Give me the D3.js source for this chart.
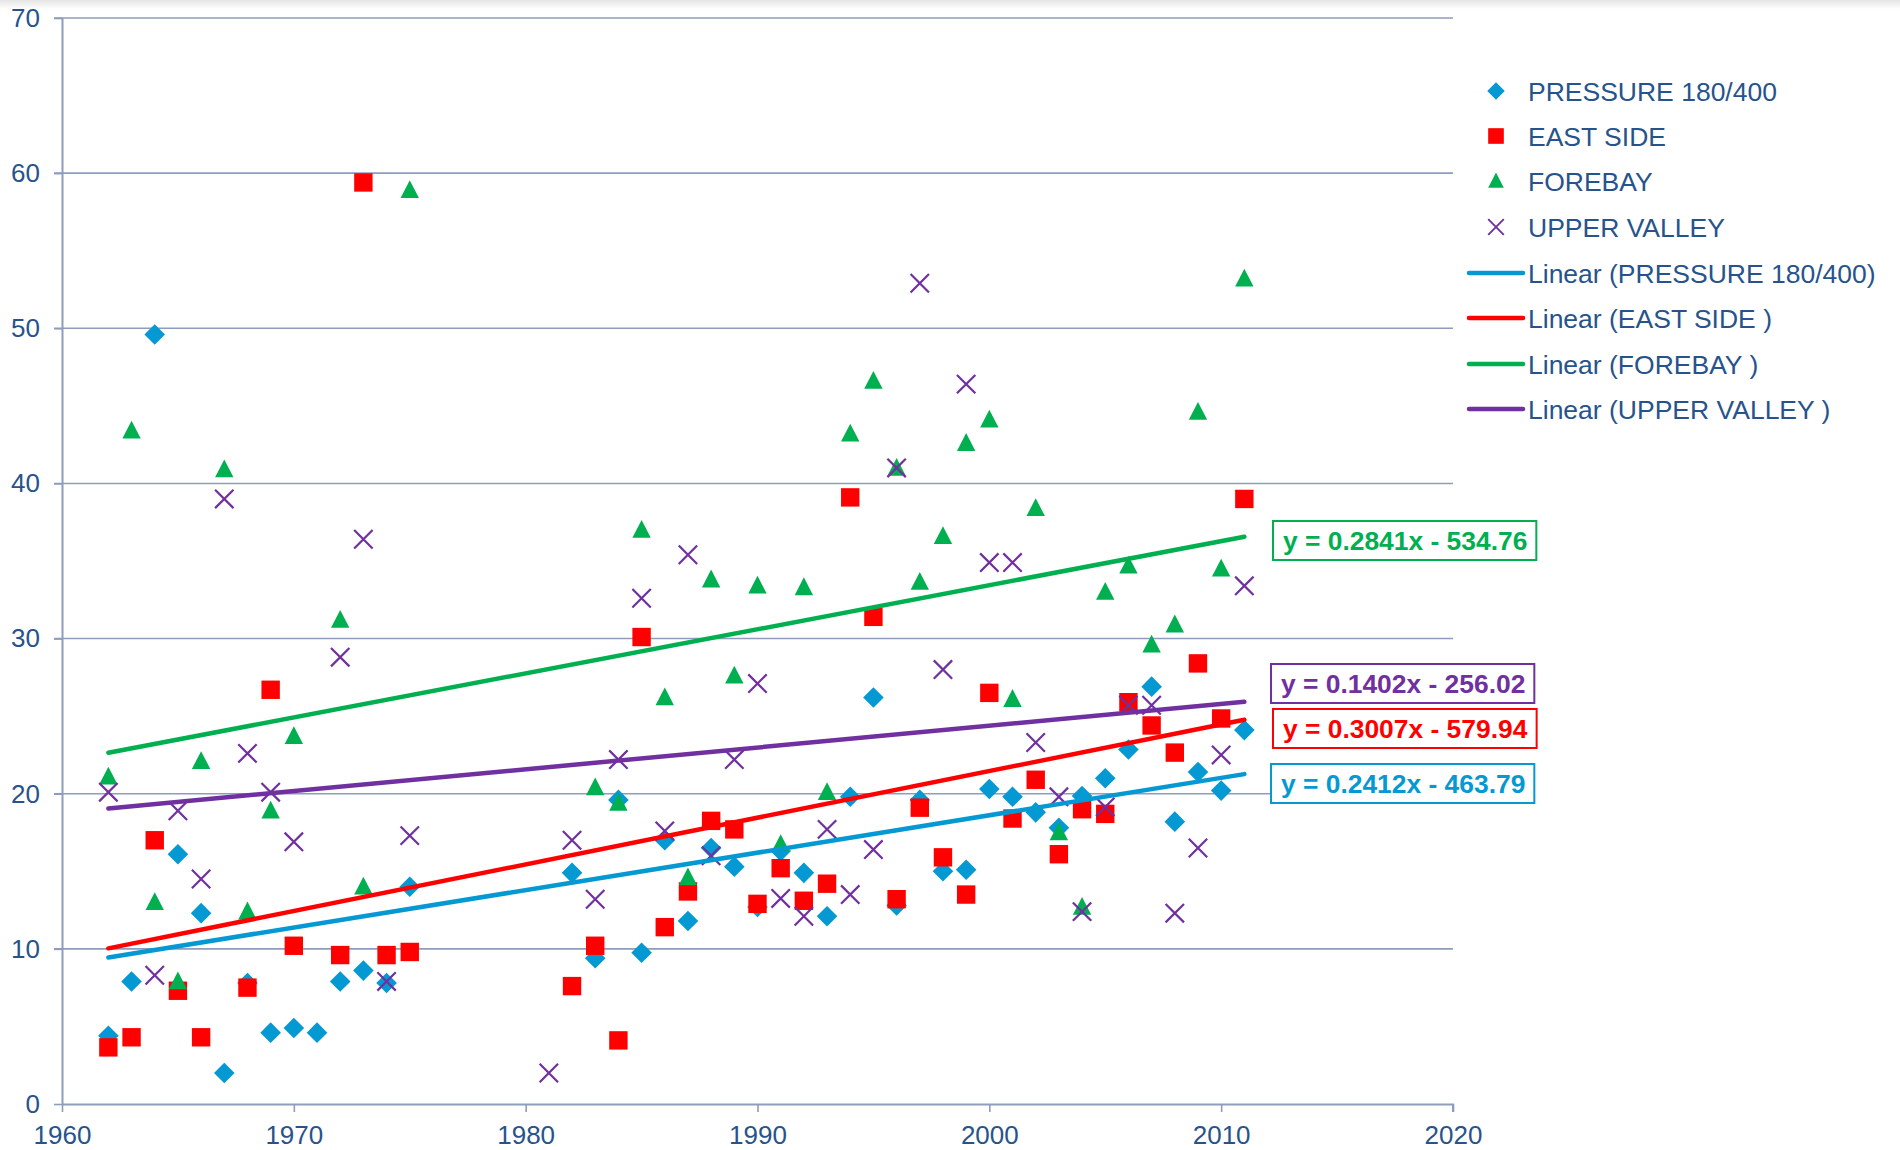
<!DOCTYPE html>
<html>
<head>
<meta charset="utf-8">
<script src="https://cdn.jsdelivr.net/npm/d3@7"></script>
<style>
  body { margin: 0; background: #fff; }
  svg text { font-family: "Liberation Sans", Arial, sans-serif; }
</style>
</head>
<body>
<div id="chart"></div>
<script>
// years sampled (gap between 1975 and 1981)
var years = [1962,1963,1964,1965,1966,1967,1968,1969,1970,1971,1972,1973,1974,1975,
  1981,1982,1983,1984,1985,1986,1987,1988,1989,1990,1991,1992,1993,1994,1995,1996,
  1997,1998,1999,2000,2001,2002,2003,2004,2005,2006,2007,2008,2009,2010,2011];

var pressure = [4.4,7.9,49.6,16.1,12.3,2.0,7.8,4.6,4.9,4.6,7.9,8.6,7.8,14.0,
  null,14.9,9.4,19.6,9.75,17.0,11.8,16.5,15.3,12.7,16.3,14.9,12.1,19.8,26.2,12.8,
  19.6,15.0,15.1,20.3,19.8,18.8,17.8,19.85,21.0,22.85,26.9,18.2,21.4,20.2,24.1];

var eastSide = [3.65,4.3,17.0,7.3,4.3,null,7.5,26.7,10.2,null,9.6,59.4,9.6,9.8,
  null,7.6,10.2,4.1,30.1,11.4,13.7,18.25,17.7,12.9,15.2,13.1,14.2,39.1,31.4,13.2,
  19.1,15.9,13.5,26.5,18.4,20.9,16.1,19.0,18.7,25.9,24.4,22.65,28.4,24.85,39.0];

var forebay = [21.1,43.4,13.0,7.9,22.1,40.9,12.4,18.9,23.7,null,31.2,14.0,null,58.9,
  null,null,20.4,19.4,37.0,26.2,14.6,33.8,27.6,33.4,16.75,33.3,20.1,43.2,46.6,41.0,
  33.65,36.6,42.6,44.1,26.1,38.4,17.5,12.7,33.0,34.7,29.6,30.9,44.6,34.5,53.2];

var upperValley = [20.1,null,8.3,18.9,14.5,39.0,22.6,20.1,16.9,null,28.8,36.4,7.9,17.3,
  2.0,17.0,13.2,22.2,32.6,17.6,35.4,16.0,22.2,27.1,13.25,12.1,17.7,13.5,16.4,41.0,
  52.9,28.0,46.4,34.9,34.9,23.3,19.8,12.4,19.15,25.7,25.7,12.3,16.5,22.5,33.4];

var seriesNames = ["PRESSURE 180/400", "EAST SIDE", "FOREBAY", "UPPER VALLEY"];
var trendNames = ["Linear (PRESSURE 180/400)", "Linear (EAST SIDE )", "Linear (FOREBAY )", "Linear (UPPER VALLEY )"];
var slopes = [0.2412, 0.3007, 0.2841, 0.1402];
var intercepts = [-463.79, -579.94, -534.76, -256.02];
var eqLabels = ["y = 0.2412x - 463.79", "y = 0.3007x - 579.94", "y = 0.2841x - 534.76", "y = 0.1402x - 256.02"];
var trendRange = [1962, 2011];
var xTicks = [1960, 1970, 1980, 1990, 2000, 2010, 2020];
var yTicks = [0, 10, 20, 30, 40, 50, 60, 70];

var colors = ["#0499d3", "#ff0000", "#00b050", "#7030a0"];
var textColor = "#27538c";
var gridColor = "#8e9cbd";

var W = 1900, H = 1150;
var margin = { top: 18, left: 62, right: 447, bottom: 46 };
var width = W - margin.left - margin.right,
    height = H - margin.top - margin.bottom;

var svg = d3.select("#chart").append("svg")
  .attr("width", W).attr("height", H);

// faint shadow band at the top edge
var grad = svg.append("defs").append("linearGradient")
  .attr("id", "topShade").attr("x1", 0).attr("y1", 0).attr("x2", 0).attr("y2", 1);
grad.append("stop").attr("offset", "0%").attr("stop-color", "#e4e4e4");
grad.append("stop").attr("offset", "100%").attr("stop-color", "#ffffff");
svg.append("rect").attr("width", W).attr("height", 9).attr("fill", "url(#topShade)");

var g = svg.append("g")
  .attr("transform", "translate(" + margin.left + "," + margin.top + ")");

var x = d3.scaleLinear().domain([1960, 2020]).range([0, width]);
var y = d3.scaleLinear().domain([0, 70]).range([height, 0]);

// gridlines
g.selectAll(".grid")
  .data(yTicks.filter(function(d) { return d > 0; }))
  .enter().append("line")
  .attr("class", "grid")
  .attr("x1", -8).attr("x2", width)
  .attr("y1", function(d) { return y(d); })
  .attr("y2", function(d) { return y(d); })
  .attr("stroke", gridColor).attr("stroke-width", 1.6);

// axes
var xAxis = g.append("g")
  .attr("transform", "translate(0," + height + ")")
  .call(d3.axisBottom(x).tickValues(xTicks).tickFormat(d3.format("d")).tickSize(8).tickPadding(14));
var yAxis = g.append("g")
  .call(d3.axisLeft(y).tickValues(yTicks).tickSize(8).tickPadding(14));

[xAxis, yAxis].forEach(function(a) {
  a.select(".domain").attr("stroke", gridColor).attr("stroke-width", 2);
  a.selectAll(".tick line").attr("stroke", gridColor).attr("stroke-width", 1.6);
  a.selectAll(".tick text")
    .attr("fill", textColor)
    .style("font-size", "26px")
    .style("font-family", "'Liberation Sans', Arial, sans-serif");
});
yAxis.select(".domain").attr("d", "M0.5," + height + "V0");
xAxis.select(".domain").attr("d", "M0," + 0.5 + "H" + width + "V8");

// marker shapes
var diamond = { draw: function(ctx, size) {
  var r = 10.3;
  ctx.moveTo(0, -r); ctx.lineTo(r, 0); ctx.lineTo(0, r); ctx.lineTo(-r, 0); ctx.closePath();
}};
var square = { draw: function(ctx, size) {
  var r = 9.2;
  ctx.rect(-r, -r, 2 * r, 2 * r);
}};
var triangle = { draw: function(ctx, size) {
  ctx.moveTo(0, -10); ctx.lineTo(9.2, 7.8); ctx.lineTo(-9.2, 7.8); ctx.closePath();
}};
var cross = { draw: function(ctx, size) {
  var r = 9.2;
  ctx.moveTo(-r, -r); ctx.lineTo(r, r); ctx.moveTo(r, -r); ctx.lineTo(-r, r);
}};
var shapes = [diamond, square, triangle, cross];

var allSeries = [pressure, eastSide, forebay, upperValley];

allSeries.forEach(function(vals, i) {
  var pts = years.map(function(yr, j) { return { year: yr, value: vals[j] }; })
    .filter(function(d) { return d.value !== null; });
  var isCross = shapes[i] === cross;
  g.append("g").selectAll("path")
    .data(pts)
    .enter().append("path")
    .attr("d", d3.symbol().type(shapes[i]))
    .attr("transform", function(d) { return "translate(" + x(d.year) + "," + y(d.value) + ")"; })
    .attr("fill", isCross ? "none" : colors[i])
    .attr("stroke", isCross ? colors[i] : "none")
    .attr("stroke-width", isCross ? 2.2 : 0);
});

// trendlines
[0, 1, 2, 3].forEach(function(i) {
  var line = d3.line()
    .x(function(d) { return x(d); })
    .y(function(d) { return y(slopes[i] * d + intercepts[i]); });
  g.append("path")
    .datum(trendRange)
    .attr("d", line)
    .attr("fill", "none")
    .attr("stroke", colors[i])
    .attr("stroke-width", 4.5)
    .attr("stroke-linecap", "round");
});

// equation labels (box left, box top)
var eqPos = [[1271, 764], [1273, 709], [1273, 521], [1271, 664]];
eqLabels.forEach(function(txt, i) {
  var lab = svg.append("g").attr("transform", "translate(" + eqPos[i][0] + "," + eqPos[i][1] + ")");
  var rect = lab.append("rect")
    .attr("height", 39)
    .attr("fill", "#fff")
    .attr("stroke", colors[i])
    .attr("stroke-width", 2);
  var t = lab.append("text")
    .attr("x", 10).attr("y", 29)
    .attr("fill", colors[i])
    .style("font-size", "26.4px")
    .style("font-weight", "bold")
    .text(txt);
  rect.attr("width", t.node().getBBox().width + 19);
});

// legend
var legend = svg.append("g").attr("transform", "translate(1468,0)");
var rowY = [91, 136, 181, 227, 273, 318, 364, 409];

seriesNames.forEach(function(name, i) {
  var isCross = shapes[i] === cross;
  legend.append("path")
    .attr("d", d3.symbol().type(shapes[i]))
    .attr("transform", "translate(28," + rowY[i] + ") scale(0.85)")
    .attr("fill", isCross ? "none" : colors[i])
    .attr("stroke", isCross ? colors[i] : "none")
    .attr("stroke-width", isCross ? 2.2 : 0);
  legend.append("text")
    .attr("x", 60).attr("y", rowY[i])
    .attr("dy", "0.36em")
    .attr("fill", textColor)
    .style("font-size", "26.5px")
    .text(name);
});

trendNames.forEach(function(name, i) {
  var ry = rowY[i + 4];
  legend.append("line")
    .attr("x1", 1).attr("x2", 55)
    .attr("y1", ry).attr("y2", ry)
    .attr("stroke", colors[i])
    .attr("stroke-width", 4.5)
    .attr("stroke-linecap", "round");
  legend.append("text")
    .attr("x", 60).attr("y", ry)
    .attr("dy", "0.36em")
    .attr("fill", textColor)
    .style("font-size", "26.5px")
    .text(name);
});
</script>
</body>
</html>
